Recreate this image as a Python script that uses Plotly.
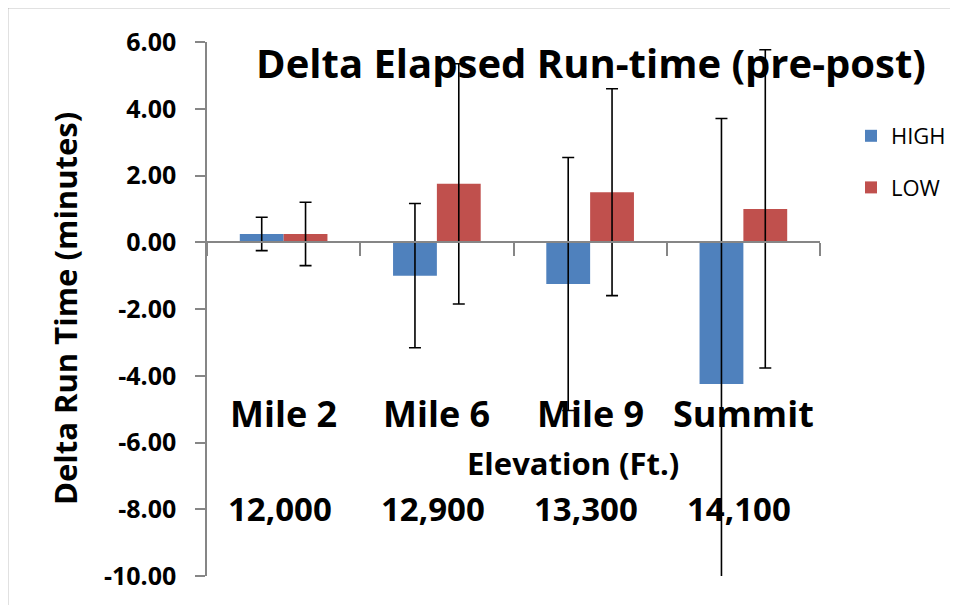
import plotly.graph_objects as go

categories = ["Mile 2", "Mile 6", "Mile 9", "Summit"]
elevations = ["12,000", "12,900", "13,300", "14,100"]
high_values = [0.25, -1.0, -1.25, -4.25]
high_errors = [0.5, 2.16, 3.79, 7.96]
low_values = [0.25, 1.75, 1.5, 1.0]
low_errors = [0.95, 3.6, 3.1, 4.77]
tick_values = [6, 4, 2, 0, -2, -4, -6, -8, -10]
tick_labels = ["6.00", "4.00", "2.00", "0.00", "-2.00", "-4.00", "-6.00", "-8.00", "-10.00"]

FONT = "Open Sans"
BOLD = dict(family=FONT, color="black", weight="bold")

fig = go.Figure()
fig.add_trace(go.Bar(
    x=categories, y=high_values, name="HIGH", legendgroup="h",
    marker=dict(color="#4F81BD", line=dict(width=0)),
    error_y=dict(type="data", array=high_errors, visible=True,
                 color="black", thickness=1.6, width=6),
))
fig.add_trace(go.Bar(
    x=categories, y=low_values, name="LOW", legendgroup="l",
    marker=dict(color="#C0504D", line=dict(width=0)),
    error_y=dict(type="data", array=low_errors, visible=True,
                 color="black", thickness=1.6, width=6),
))

# page body has an 8px margin; work in page pixels and convert
OFF = 8
PW, PH = 958, 605
W, H = PW - OFF, PH - OFF
L, R, T, B = 207 - OFF, 820 - OFF, 42 - OFF, 576 - OFF
pw, ph = R - L, B - T

def px_x(x):
    return (x - OFF - L) / pw

def px_y(y):
    return (B - (y - OFF)) / ph

annotations = []
for c in categories:
    annotations.append(dict(x=c, xref="x", y=px_y(413), yref="paper",
                            text=c, showarrow=False, xanchor="center", yanchor="middle",
                            font=dict(size=36, **BOLD)))
for c, e in zip(categories, elevations):
    annotations.append(dict(x=c, xref="x", y=px_y(508), yref="paper", xshift=-4,
                            text=e, showarrow=False, xanchor="center", yanchor="middle",
                            font=dict(size=33, **BOLD)))
annotations.append(dict(x=px_x(573), xref="paper", y=px_y(463), yref="paper",
                        text="Elevation (Ft.)", showarrow=False, xanchor="center",
                        yanchor="middle", font=dict(size=31, **BOLD)))
annotations.append(dict(x=px_x(65), xref="paper", y=px_y(309), yref="paper",
                        text="Delta Run Time (minutes)", textangle=-90, showarrow=False,
                        xanchor="center", yanchor="middle", font=dict(size=31, **BOLD)))

fig.update_layout(
    width=W, height=H,
    margin=dict(l=L, r=W - R, t=T, b=H - B, pad=0, autoexpand=False),
    paper_bgcolor="white", plot_bgcolor="white",
    barmode="group", bargap=0.428, bargroupgap=0,
    title=dict(text="Delta Elapsed Run-time (pre-post)", x=px_x(591), xref="paper",
               xanchor="center", y=1 - (64 - OFF) / H, yanchor="middle",
               font=dict(size=40, **BOLD)),
    showlegend=True,
    legend=dict(x=px_x(851), y=px_y(115), xanchor="left", yanchor="top",
                font=dict(family=FONT, size=22, color="black"),
                tracegroupgap=20, bgcolor="rgba(0,0,0,0)"),
    xaxis=dict(type="category", showticklabels=False, showgrid=False,
               showline=True, linecolor="#868686", linewidth=1.5,
               ticks="outside", ticklen=13, tickcolor="#868686", tickwidth=1.5,
               tickson="boundaries", anchor="free", position=10 / 16,
               zeroline=False, range=[-0.5, 3.5]),
    yaxis=dict(range=[-10, 6], tickmode="array", tickvals=tick_values, ticktext=tick_labels,
               showgrid=False, zeroline=False, showline=True,
               linecolor="#868686", linewidth=1.5, ticks="outside", ticklen=10,
               tickcolor="#868686", tickwidth=1.5, ticklabelstandoff=14,
               tickfont=dict(size=25, **BOLD)),
    annotations=annotations,
    shapes=[dict(type="rect", xref="paper", yref="paper",
                 x0=px_x(7.5), y0=-1, x1=2, y1=px_y(7.5),
                 line=dict(color="#868686", width=1.5), fillcolor="rgba(0,0,0,0)",
                 layer="above")],
)

fig.write_html("out.html")
